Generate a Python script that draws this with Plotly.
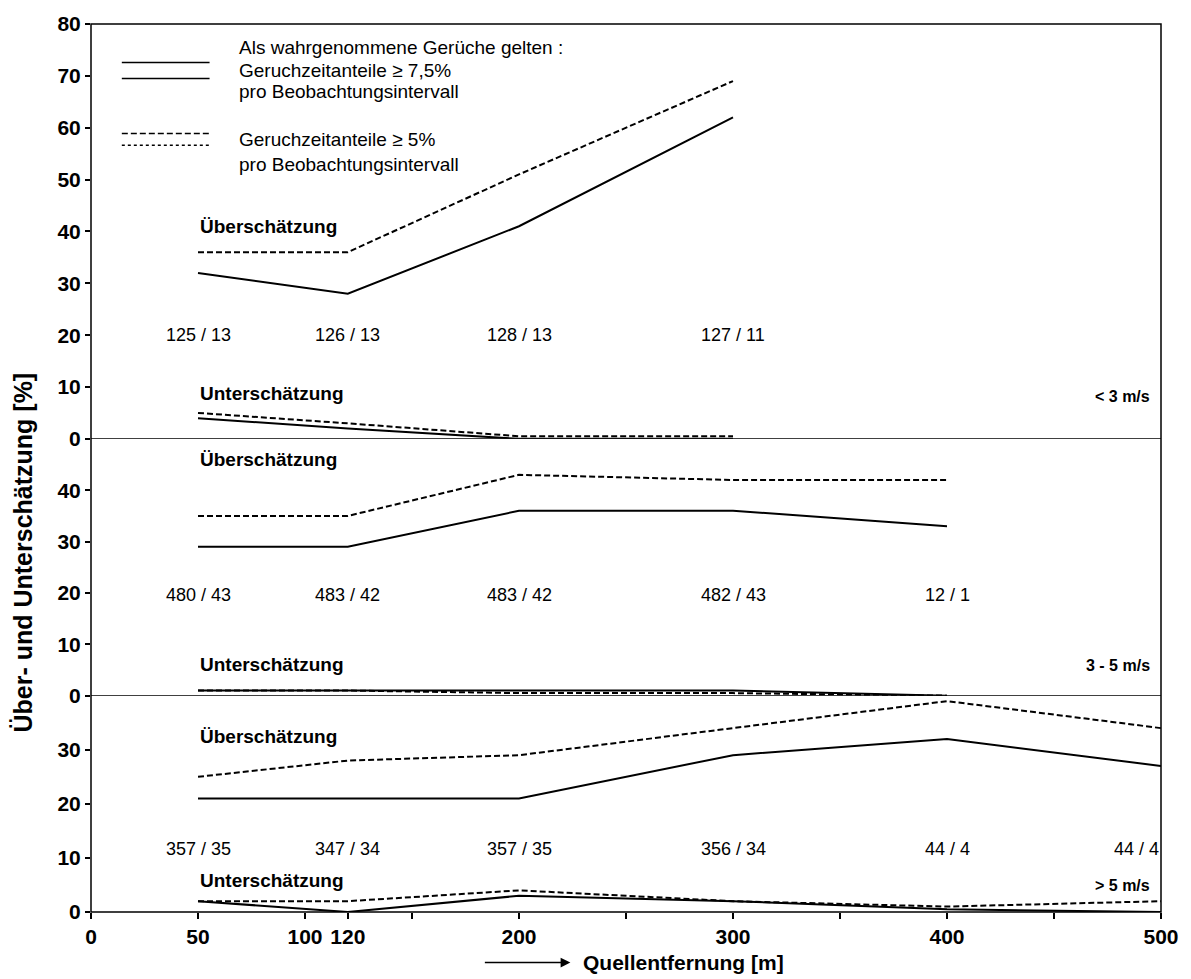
import plotly.graph_objects as go

# ---------------- data ----------------
# wind speed < 3 m/s
dist_lt3 = [50, 120, 200, 300]
ueber_75_lt3 = [32, 28, 41, 62]
ueber_5_lt3 = [36, 36, 51, 69]
unter_75_lt3 = [4, 2, 0, 0]
unter_5_lt3 = [5, 3, 0.5, 0.5]
counts_lt3 = ["125 / 13", "126 / 13", "128 / 13", "127 / 11"]

# wind speed 3 - 5 m/s
dist_35 = [50, 120, 200, 300, 400]
ueber_75_35 = [29, 29, 36, 36, 33]
ueber_5_35 = [35, 35, 43, 42, 42]
unter_75_35 = [1, 1, 1, 1, 0]
unter_5_35 = [1, 1, 0.5, 0.5, 0]
counts_35 = ["480 / 43", "483 / 42", "483 / 42", "482 / 43", "12 / 1"]

# wind speed > 5 m/s
dist_gt5 = [50, 120, 200, 300, 400, 500]
ueber_75_gt5 = [21, 21, 21, 29, 32, 27]
ueber_5_gt5 = [25, 28, 29, 34, 39, 34]
unter_75_gt5 = [2, 0, 3, 2, 0.5, 0]
unter_5_gt5 = [2, 2, 4, 2, 1, 2]
counts_gt5 = ["357 / 35", "347 / 34", "357 / 35", "356 / 34", "44 / 4", "44 / 4"]

x_tickvals = [0, 50, 100, 120, 150, 200, 250, 300, 350, 400, 450, 500]
x_ticktext = ["0", "50", "100", "120", "", "200", "", "300", "", "400", "", "500"]

speed_labels = ["< 3 m/s", "3 - 5 m/s", "> 5 m/s"]

# ---------------- figure ----------------
FONT = "Liberation Sans, Arial, sans-serif"
DASH = "6px,3px"
fig = go.Figure()

panels = [
    ("y3", dist_lt3, ueber_75_lt3, ueber_5_lt3, unter_75_lt3, unter_5_lt3),
    ("y2", dist_35, ueber_75_35, ueber_5_35, unter_75_35, unter_5_35),
    ("y", dist_gt5, ueber_75_gt5, ueber_5_gt5, unter_75_gt5, unter_5_gt5),
]
for yref, d, u75, u5, n75, n5 in panels:
    for vals, dash in [(u75, "solid"), (u5, DASH), (n75, "solid"), (n5, DASH)]:
        fig.add_trace(go.Scatter(x=d, y=vals, xaxis="x", yaxis=yref, mode="lines",
                                 line=dict(color="black", width=2, dash=dash),
                                 showlegend=False, hoverinfo="skip"))

ann = []
# count labels
for yref, d, labels, yv in [("y3", dist_lt3, counts_lt3, 20),
                            ("y2", dist_35, counts_35, 19.6),
                            ("y", dist_gt5, counts_gt5, 11.7)]:
    for xv, t in zip(d, labels):
        ann.append(dict(x=xv, y=yv, xref="x", yref=yref, text=t, showarrow=False,
                        xanchor="right" if xv >= 500 else "center", yanchor="middle",
                        font=dict(family=FONT, size=18, color="black")))

# Über/Unter labels
for yref, yu, yn in [("y3", 41, 8.8), ("y2", 46, 6), ("y", 32.5, 5.8)]:
    ann.append(dict(x=50, y=yu, xref="x", yref=yref, text="<b>Überschätzung</b>",
                    showarrow=False, xanchor="left", yanchor="middle",
                    font=dict(family=FONT, size=19, color="black")))
    ann.append(dict(x=50, y=yn, xref="x", yref=yref, text="<b>Unterschätzung</b>",
                    showarrow=False, xanchor="left", yanchor="middle",
                    font=dict(family=FONT, size=19, color="black")))

# speed labels
for yref, yv, t in zip(["y3", "y2", "y"], [8.2, 5.8, 4.9], speed_labels):
    ann.append(dict(x=496, y=yv, xref="x", yref=yref, text="<b>" + t + "</b>",
                    showarrow=False, xanchor="right", yanchor="middle",
                    font=dict(family=FONT, size=16, color="black")))

# legend text
leg_texts = [("Als wahrgenommene Gerüche gelten :", 75.4),
             ("Geruchzeitanteile ≥ 7,5%", 71.0),
             ("pro Beobachtungsintervall", 66.9),
             ("Geruchzeitanteile ≥ 5%", 57.7),
             ("pro Beobachtungsintervall", 53.0)]
for t, yv in leg_texts:
    ann.append(dict(x=68, y=yv, xref="x", yref="y3", text=t, showarrow=False,
                    xanchor="left", yanchor="middle",
                    font=dict(family=FONT, size=19, color="black")))

# axis titles
ann.append(dict(x=-0.0634, y=0.405, xref="paper", yref="paper",
                text="<b>Über- und Unterschätzung [%]</b>", textangle=-90,
                showarrow=False, xanchor="center", yanchor="middle",
                font=dict(family=FONT, size=25, color="black")))
ann.append(dict(x=0.4576, y=-0.057, xref="paper", yref="paper",
                text="<b>Quellentfernung [m]</b>", showarrow=False,
                xanchor="left", yanchor="middle",
                font=dict(family=FONT, size=21, color="black")))
ann.append(dict(x=0.448, y=-0.057, xref="paper", yref="paper", text="",
                showarrow=True, ax=-87, ay=0, arrowhead=2, arrowsize=1.3,
                arrowwidth=1.5, arrowcolor="black"))

shapes = [
    dict(type="rect", xref="paper", yref="paper", x0=0, x1=1, y0=0, y1=1,
         line=dict(color="black", width=1.5)),
    dict(type="line", xref="paper", yref="y2", x0=0, x1=1, y0=0, y1=0,
         line=dict(color="black", width=1.5)),
    dict(type="line", xref="paper", yref="y3", x0=0, x1=1, y0=0, y1=0,
         line=dict(color="black", width=1.5)),
]
# legend sample lines
for yv, dash in [(72.6, "solid"), (69.5, "solid"), (58.9, DASH), (56.6, "dot")]:
    shapes.append(dict(type="line", xref="x", yref="y3", x0=14.4, x1=55.4, y0=yv, y1=yv,
                       line=dict(color="black", width=1.5, dash=dash)))

tickfont = dict(family=FONT, size=21, color="black", weight="bold")
yax_common = dict(showgrid=False, zeroline=False, showline=False, ticks="outside",
                  ticklen=5, tickwidth=1.5, tickcolor="black", tickfont=tickfont,
                  anchor="x", fixedrange=True)

fig.update_layout(
    width=1191, height=979,
    margin=dict(l=91, r=27, t=13, b=67),
    paper_bgcolor="white", plot_bgcolor="white",
    showlegend=False,
    xaxis=dict(range=[0, 500], domain=[0, 1], tickvals=x_tickvals, ticktext=x_ticktext,
               ticks="outside", ticklen=6, tickwidth=1.5, tickcolor="black",
               showgrid=False, zeroline=False, showline=False, tickfont=tickfont,
               anchor="y"),
    yaxis=dict(domain=[0, 0.2436], range=[0, 40], tickvals=[0, 10, 20, 30], **yax_common),
    yaxis2=dict(domain=[0.2436, 0.5328], range=[0, 50], tickvals=[0, 10, 20, 30, 40], **yax_common),
    yaxis3=dict(domain=[0.5328, 1], range=[0, 80], tickvals=list(range(0, 81, 10)), **yax_common),
    annotations=ann,
    shapes=shapes,
)

fig.write_html("out.html")
